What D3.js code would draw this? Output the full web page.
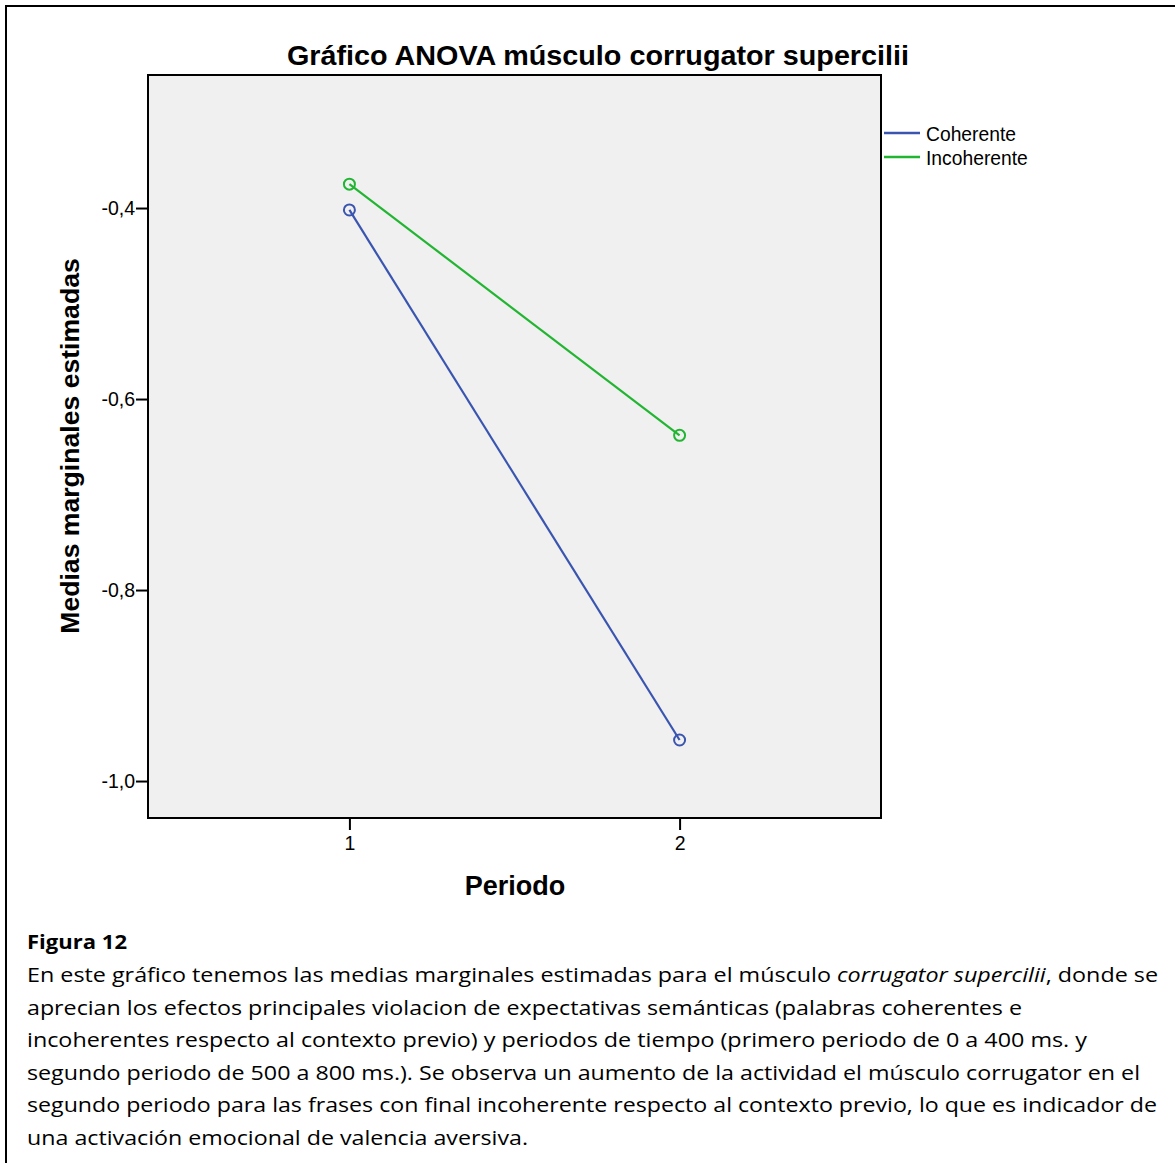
<!DOCTYPE html>
<html>
<head>
<meta charset="utf-8">
<script src="https://cdn.jsdelivr.net/npm/d3@7"></script>
<style>
  body { margin: 0; background: #fff; }
  svg { display: block; }
</style>
</head>
<body>
<svg id="chart" width="1175" height="1163"></svg>
<script>
// datos
var periodos = [1, 2];
var grupos = ["Coherente", "Incoherente"];
var coherente = [-0.402, -0.957];
var incoherente = [-0.375, -0.638];
var yTicks = [-0.4, -0.6, -0.8, -1.0];
var colores = ["#3a55b0", "#22b532"];

var caption = [
  [{ t: "En este gráfico tenemos las medias marginales estimadas para el músculo " }, { t: "corrugator supercilii", i: true }, { t: ", donde se" }],
  [{ t: "aprecian los efectos principales violacion de expectativas semánticas (palabras coherentes e" }],
  [{ t: "incoherentes respecto al contexto previo) y periodos de tiempo (primero periodo de 0 a 400 ms. y" }],
  [{ t: "segundo periodo de 500 a 800 ms.). Se observa un aumento de la actividad el músculo corrugator en el" }],
  [{ t: "segundo periodo para las frases con final incoherente respecto al contexto previo, lo que es indicador de" }],
  [{ t: "una activación emocional de valencia aversiva." }]
];
var captionEnds = [1158, 1022, 1087, 1140, 1157, 528];

var svg = d3.select("#chart");

// marco exterior
svg.append("rect")
  .attr("x", 6).attr("y", 6)
  .attr("width", 1300).attr("height", 1300)
  .attr("fill", "none").attr("stroke", "#000").attr("stroke-width", 2);

var plot = { left: 148, right: 881, top: 75, bottom: 818 };

var xScale = d3.scaleLinear().domain([0.39, 2.61]).range([plot.left, plot.right]);
var yScale = d3.scaleLinear().domain([-1.0387, -0.2607]).range([plot.bottom, plot.top]);

svg.append("rect")
  .attr("x", plot.left).attr("y", plot.top)
  .attr("width", plot.right - plot.left).attr("height", plot.bottom - plot.top)
  .attr("fill", "#f0f0f0").attr("stroke", "#000").attr("stroke-width", 2);

var fmt = function (d) { return d3.format(".1f")(d).replace(".", ",").replace("\u2212", "-"); };

var yAxis = svg.append("g")
  .attr("transform", "translate(" + plot.left + ",0)")
  .call(d3.axisLeft(yScale).tickValues(yTicks).tickFormat(fmt).tickSize(12).tickPadding(1));
var xAxis = svg.append("g")
  .attr("transform", "translate(0," + plot.bottom + ")")
  .call(d3.axisBottom(xScale).tickValues(periodos).tickFormat(d3.format("d")).tickSize(12).tickPadding(6));

[yAxis, xAxis].forEach(function (ax) {
  ax.select(".domain").remove();
  ax.selectAll("line").attr("stroke", "#000").attr("stroke-width", 2);
  ax.selectAll("text")
    .attr("fill", "#000")
    .style("font-family", "Liberation Sans, Arial, sans-serif")
    .style("font-size", "19.5px");
});

var series = [coherente, incoherente];
var line = d3.line()
  .x(function (d, i) { return xScale(periodos[i]); })
  .y(function (d) { return yScale(d); });

series.forEach(function (vals, k) {
  svg.append("path")
    .datum(vals)
    .attr("fill", "none")
    .attr("stroke", colores[k])
    .attr("stroke-width", 2.2)
    .attr("d", line);
  svg.selectAll(null)
    .data(vals)
    .enter()
    .append("circle")
    .attr("cx", function (d, i) { return xScale(periodos[i]); })
    .attr("cy", function (d) { return yScale(d); })
    .attr("r", 5.5)
    .attr("fill", "none")
    .attr("stroke", colores[k])
    .attr("stroke-width", 2);
});

// titulos
svg.append("text")
  .attr("x", 598).attr("y", 65)
  .attr("text-anchor", "middle")
  .attr("textLength", 622)
  .attr("lengthAdjust", "spacingAndGlyphs")
  .style("font-family", "Liberation Sans, Arial, sans-serif")
  .style("font-weight", "bold")
  .style("font-size", "28px")
  .text("Gráfico ANOVA músculo corrugator supercilii");

svg.append("text")
  .attr("transform", "translate(79,446) rotate(-90)")
  .attr("text-anchor", "middle")
  .style("font-family", "Liberation Sans, Arial, sans-serif")
  .style("font-weight", "bold")
  .style("font-size", "26.6px")
  .text("Medias marginales estimadas");

svg.append("text")
  .attr("x", 515).attr("y", 895)
  .attr("text-anchor", "middle")
  .style("font-family", "Liberation Sans, Arial, sans-serif")
  .style("font-weight", "bold")
  .style("font-size", "27px")
  .text("Periodo");

// leyenda
var legend = svg.append("g").attr("transform", "translate(884,133)");
grupos.forEach(function (g, k) {
  legend.append("line")
    .attr("x1", 0).attr("x2", 36)
    .attr("y1", k * 24).attr("y2", k * 24)
    .attr("stroke", colores[k]).attr("stroke-width", 2.5);
  legend.append("text")
    .attr("x", 42).attr("y", k * 24 + 8)
    .style("font-family", "Liberation Sans, Arial, sans-serif")
    .style("font-size", "19.3px")
    .text(g);
});

// pie de figura
svg.append("text")
  .attr("x", 27).attr("y", 949)
  .style("font-family", "Open Sans, Noto Sans, sans-serif")
  .style("font-weight", "bold")
  .style("font-size", "20px")
  .attr("textLength", 100)
  .attr("lengthAdjust", "spacingAndGlyphs")
  .text("Figura 12");

caption.forEach(function (parts, i) {
  var t = svg.append("text")
    .attr("x", 27).attr("y", 982 + i * 32.6)
    .attr("textLength", captionEnds[i] - 27)
    .attr("lengthAdjust", "spacingAndGlyphs")
    .style("font-family", "Open Sans, Noto Sans, sans-serif")
    .style("font-size", "20px")
    .attr("fill", "#000");
  parts.forEach(function (p) {
    t.append("tspan")
      .style("font-style", p.i ? "italic" : "normal")
      .text(p.t);
  });
});
</script>
</body>
</html>
